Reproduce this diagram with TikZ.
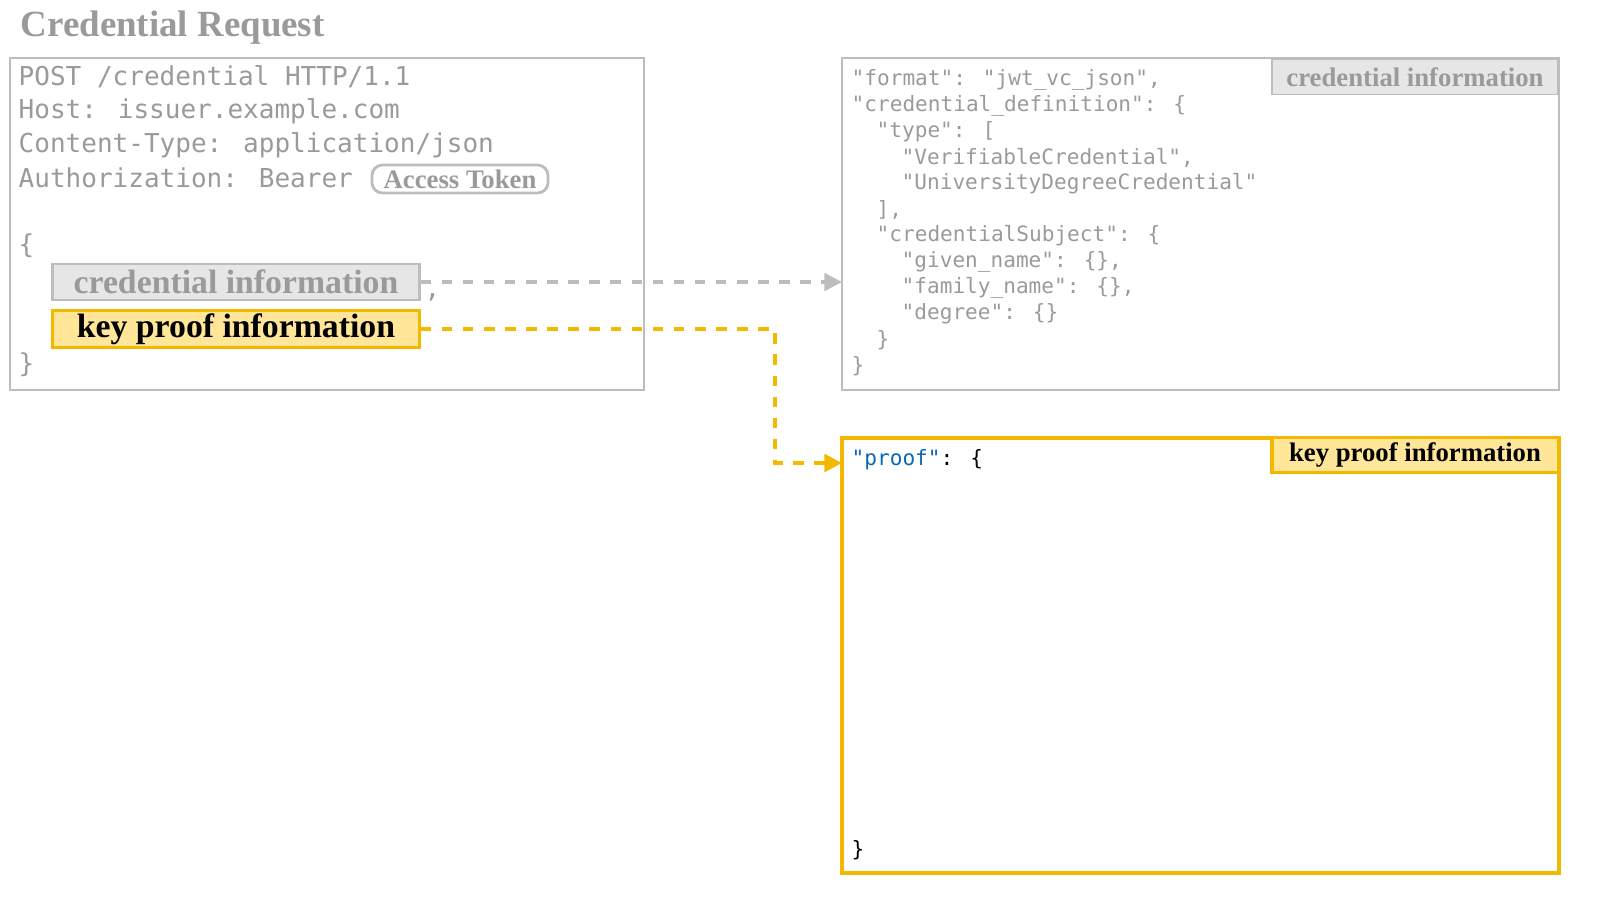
\documentclass[tikz,border=0pt]{standalone}
\usepackage{fontspec}
\setmainfont{Liberation Serif}
\newfontfamily\codefont{DejaVu Sans Mono}
\usetikzlibrary{arrows.meta}
\definecolor{greytxt}{HTML}{9A9A9A}
\definecolor{greyline}{HTML}{BDBDBD}
\definecolor{greyfill}{HTML}{E6E6E6}
\definecolor{keyline}{HTML}{F5B800}
\definecolor{keyfill}{HTML}{FFE699}
\definecolor{jsonblue}{HTML}{0B66B5}
\begin{document}
\begin{tikzpicture}[x=0.01cm,y=-0.01cm,
  panel/.style={draw=greyline,line width=0.7pt},
  keypanel/.style={draw=keyline,line width=0.9pt},
  code/.style={anchor=west,inner sep=0pt,text=greytxt,font=\codefont\fontsize{7.4}{8}\selectfont},
  smallcode/.style={anchor=west,inner sep=0pt,text=greytxt,font=\codefont\fontsize{6}{7}\selectfont},
  tag/.style={font=\bfseries\fontsize{7.6}{8}\selectfont,inner sep=0pt,minimum height=0.35cm}]
  \node[anchor=west,inner sep=0pt,text=greytxt,font=\bfseries\fontsize{10.5}{11}\selectfont] (title) at (20,28) {Credential Request};

%% panels
  \draw[panel] (10,58) rectangle (644,390);
  \draw[panel] (842,58) rectangle (1559,390);
  \draw[keypanel] (842,438) rectangle (1559,873);
  \node[tag,draw=greyline,fill=greyfill,text=greytxt,minimum width=2.86cm] (credtab) at (1415,77) {credential information};
  \node[tag,draw=keyline,fill=keyfill,line width=0.9pt,minimum width=2.86cm] (keytab) at (1415,455) {key proof information};

%% request text
  \foreach \y/\txt in {77/{POST /credential HTTP/1.1}, 111/{Host: issuer.example.com},
                       145/{Content-Type: application/json}, 178/{Authorization: Bearer},
                       246/\{, 365/\}}
    \node[code] at (18,\y) {\txt};
  \node[draw=greyline,rounded corners=3pt,line width=0.8pt,text=greytxt,inner sep=0pt,
        minimum width=1.76cm,minimum height=0.28cm,font=\bfseries\fontsize{7.6}{8}\selectfont] (token) at (460,179) {Access Token};
  \node[draw=greyline,fill=greyfill,line width=0.8pt,text=greytxt,inner sep=0pt,
        minimum width=3.66cm,minimum height=0.36cm,font=\bfseries\fontsize{9.6}{11}\selectfont] (credinfo) at (236,282) {credential information};
  \node[code] at (424,297) {,};
  \node[draw=keyline,fill=keyfill,line width=0.9pt,inner sep=0pt,
        minimum width=3.66cm,minimum height=0.37cm,font=\bfseries\fontsize{9.6}{11}\selectfont] (keyinfo) at (236,329) {key proof information};

%% credential json
  \foreach \n/\i/\txt in {0/0/{"format": "jwt\_vc\_json",}, 1/0/{"credential\_definition": \{},
                          2/1/{"type": [}, 3/2/{"VerifiableCredential",}, 4/2/{"UniversityDegreeCredential"},
                          5/1/{],}, 6/1/{"credentialSubject": \{}, 7/2/{"given\_name": \{\},},
                          8/2/{"family\_name": \{\},}, 9/2/{"degree": \{\}}, 10/1/\}, 11/0/\}}
    \node[smallcode] at (851+25*\i,80+26*\n) {\txt};

%% proof json
  \node[smallcode,text=black] (proof) at (851,460) {\textcolor{jsonblue}{"proof"}: \{};
  \node[smallcode,text=black] at (851,850) {\}};
  \coordinate (credin) at (842,282);
  \coordinate (keyin) at (842,463);

%% connections
  \draw[greyline,dashed,line width=0.9pt,-{Triangle[length=5pt,width=5pt]}] (credinfo.east) -- (credin);
  \draw[keyline,dashed,line width=0.9pt,-{Triangle[length=5pt,width=5pt]}] (keyinfo.east) -| (775,400) |- (keyin);
  \pgfresetboundingbox
  \path[use as bounding box] (0,0) rectangle (1600,900);
\end{tikzpicture}
\end{document}
